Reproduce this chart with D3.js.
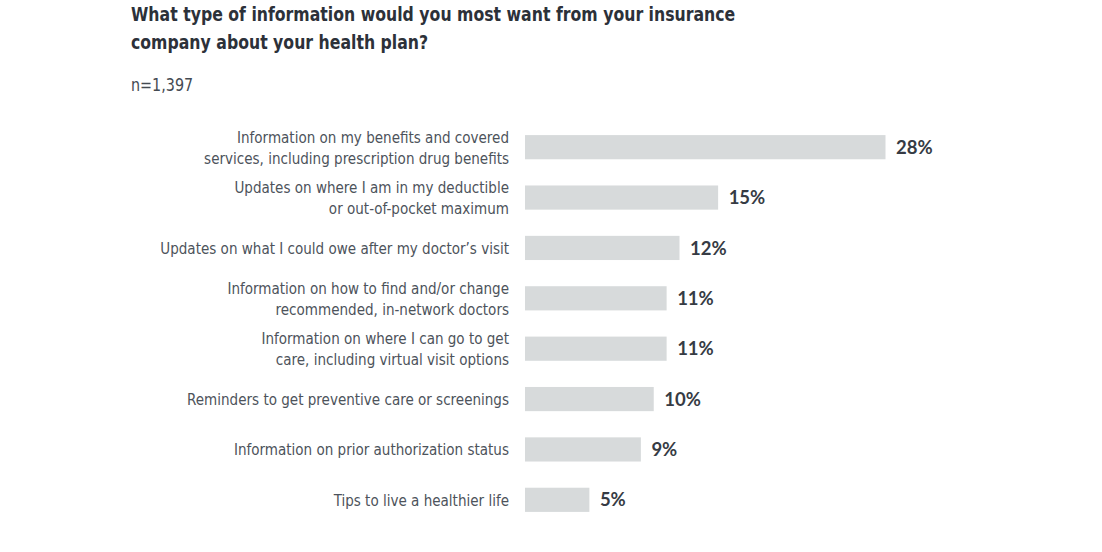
<!DOCTYPE html>
<html><head><meta charset="utf-8">
<script src="https://cdn.jsdelivr.net/npm/d3@7"></script>
<style>
html,body{margin:0;padding:0;background:#fff;}
svg{display:block;}
</style></head>
<body>
<svg id="chart" width="1102" height="552"></svg>
<script>
const titleLines = ["What type of information would you most want from your insurance", "company about your health plan?"];
const subtitle = "n=1,397";
const categories = [
  ["Information on my benefits and covered", "services, including prescription drug benefits"],
  ["Updates on where I am in my deductible", "or out-of-pocket maximum"],
  ["Updates on what I could owe after my doctor\u2019s visit"],
  ["Information on how to find and/or change", "recommended, in-network doctors"],
  ["Information on where I can go to get", "care, including virtual visit options"],
  ["Reminders to get preventive care or screenings"],
  ["Information on prior authorization status"],
  ["Tips to live a healthier life"]
];
const values = [28, 15, 12, 11, 11, 10, 9, 5];

const svg = d3.select("#chart");
const condensed = "'DejaVu Sans Condensed','Liberation Sans Narrow',sans-serif";

// Title (horizontally condensed)
const tg = svg.append("g").attr("transform","translate(131,0) scale(0.92,1)");
tg.append("text")
  .attr("font-family",condensed).attr("font-weight","bold").attr("font-size",19).attr("fill","#2c3139")
  .selectAll("tspan").data(titleLines).join("tspan")
  .attr("x",0).attr("y",(d,i)=>21+i*28.5).text(d=>d);

svg.append("g").attr("transform","translate(131,0) scale(0.886,1)")
  .append("text").attr("x",0).attr("y",90.7)
  .attr("font-family",condensed).attr("font-size",18).attr("fill","#444a52").text(subtitle);

const idx = d3.range(values.length);
const x = d3.scaleLinear().domain([0,28]).range([525,885.5]);
const y = d3.scaleBand().domain(idx).range([122,525]).paddingInner(0.52).paddingOuter(0.26);

svg.append("g").selectAll("rect").data(idx).join("rect")
  .attr("x",x(0)).attr("y",i=>y(i)).attr("width",i=>x(values[i])-x(0)).attr("height",y.bandwidth())
  .attr("fill","#d7dadb");

svg.append("g").selectAll("text").data(idx).join("text")
  .attr("x",i=>x(values[i])+10.5).attr("y",i=>y(i)+y.bandwidth()/2+6.6)
  .attr("font-family","Lato, 'Open Sans', sans-serif").attr("font-weight","bold").attr("font-size",18.5)
  .attr("fill","#363b44").text(i=>values[i]+"%");

const sxL = 0.94;
const lab = svg.append("g").attr("transform",`translate(509,0) scale(${sxL},1)`)
  .selectAll("text").data(idx).join("text")
  .attr("text-anchor","end").attr("font-family",condensed).attr("font-size",16).attr("fill","#4d535b");
lab.selectAll("tspan").data(i=>categories[i].map((t,k)=>({t,k,n:categories[i].length,i}))).join("tspan")
  .attr("x",0)
  .attr("y",d=>y(d.i)+y.bandwidth()/2+6+(d.n===2?(d.k===0?-10.5:10.5):0))
  .text(d=>d.t);
</script>
</body></html>
